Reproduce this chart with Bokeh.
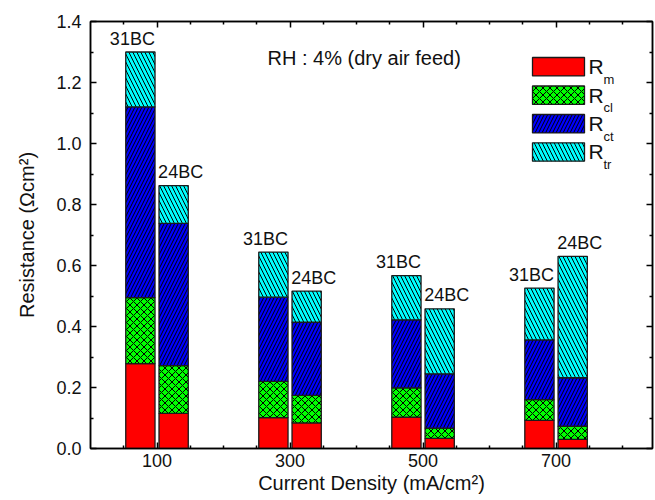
from bokeh.plotting import figure
from bokeh.models import (Range1d, LinearAxis, FixedTicker,
                          PrintfTickFormatter, ColumnDataSource)
from bokeh.core.properties import value
from bokeh.embed import file_html
from bokeh.resources import INLINE

# ---------------- data ----------------
groups = [100, 300, 500, 700]
samples = ["31BC", "24BC"]
components = ["R_m", "R_cl", "R_ct", "R_tr"]
comp_main = ["R", "R", "R", "R"]
comp_sub = ["m", "cl", "ct", "tr"]

rm_31 = [0.278, 0.101, 0.103, 0.092]
rcl_31 = [0.217, 0.119, 0.096, 0.068]
rct_31 = [0.625, 0.276, 0.223, 0.196]
rtr_31 = [0.180, 0.148, 0.145, 0.170]

rm_24 = [0.115, 0.084, 0.033, 0.030]
rcl_24 = [0.157, 0.090, 0.034, 0.043]
rct_24 = [0.466, 0.240, 0.178, 0.159]
rtr_24 = [0.124, 0.102, 0.213, 0.398]

x_ticks = [100, 300, 500, 700]
x_minor = [50, 150, 200, 250, 350, 400, 450, 550, 600, 650, 750, 800]
y_ticks = [0.0, 0.2, 0.4, 0.6, 0.8, 1.0, 1.2, 1.4]
y_minor = [0.1, 0.3, 0.5, 0.7, 0.9, 1.1, 1.3]

# ---------------- style / layout ----------------
FONT = "Liberation Sans"
W, H = 655, 500
FL, FR, FT, FB = 90, 652, 21, 448
XMAX, YMAX = 845, 1.4
colors = ["#ff0000", "#00ff00", "#0000ff", "#00ffff"]
hatches = [" ", "x", "/", "\\"]
hatch_scales = [8, 7, 7, 8]
offsets = [-25, 25]
bar_w = 44


def dx(px):
    return (px - FL) / (FR - FL) * XMAX


def dy(py):
    return (FB - py) / (FB - FT) * YMAX


p = figure(width=W, height=H, output_backend="svg", toolbar_location=None,
           x_range=Range1d(0, XMAX), y_range=Range1d(0, YMAX + 1e-9),
           min_border_left=FL, min_border_right=W - FR,
           min_border_top=FT, min_border_bottom=H - FB,
           x_axis_label="Current Density (mA/cm²)",
           y_axis_label="Resistance (Ωcm²)")
p.grid.visible = False
p.outline_line_color = "black"
p.outline_line_width = 1.5
p.background_fill_color = "white"
p.border_fill_color = "white"

bottom_axis = p.below[0]
left_axis = p.left[0]

xt = FixedTicker(ticks=x_ticks, minor_ticks=x_minor)
yt = FixedTicker(ticks=y_ticks, minor_ticks=y_minor)

bottom_axis.ticker = xt
left_axis.ticker = yt
left_axis.formatter = PrintfTickFormatter(format="%.1f")

extra_top = LinearAxis(ticker=xt)
extra_right = LinearAxis(ticker=yt)
p.add_layout(extra_top, "above")
p.add_layout(extra_right, "right")

for ax in [bottom_axis, left_axis, extra_top, extra_right]:
    ax.axis_line_color = "black"
    ax.axis_line_width = 1.5
    ax.major_tick_in = 6
    ax.major_tick_out = 0
    ax.minor_tick_in = 3
    ax.minor_tick_out = 0
    ax.major_tick_line_width = 1.5
    ax.minor_tick_line_width = 1.5
    ax.major_tick_line_color = "black"
    ax.minor_tick_line_color = "black"
    ax.major_label_text_font = FONT
    ax.major_label_text_font_size = "18px"
    ax.major_label_text_color = "#111111"
    ax.axis_label_text_font = FONT
    ax.axis_label_text_font_size = "20px"
    ax.axis_label_text_font_style = "normal"
    ax.axis_label_text_color = "#111111"

for ax in [extra_top, extra_right]:
    ax.major_label_text_font_size = "0px"
    ax.major_label_text_color = None
    ax.major_label_standoff = 0

bottom_axis.major_label_standoff = 5
bottom_axis.axis_label_standoff = 2
left_axis.major_label_standoff = 9
left_axis.axis_label_standoff = 15

# ---------------- bars ----------------
series = {
    "31BC": [rm_31, rcl_31, rct_31, rtr_31],
    "24BC": [rm_24, rcl_24, rct_24, rtr_24],
}
for si, s in enumerate(samples):
    xs = [g + offsets[si] for g in groups]
    bottoms = [0.0] * len(groups)
    for ci, vals in enumerate(series[s]):
        tops = [b + v for b, v in zip(bottoms, vals)]
        p.vbar(x=xs, width=bar_w, bottom=bottoms, top=tops,
               fill_color=colors[ci], line_color="#1a1a1a", line_width=1.3,
               hatch_pattern=hatches[ci], hatch_color="black",
               hatch_scale=hatch_scales[ci], hatch_weight=1.0)
        bottoms = tops
    src = ColumnDataSource(dict(x=xs, y=bottoms, t=[s] * len(groups)))
    p.text(x="x", y="y", text="t", source=src,
           x_offset=-8 if si == 0 else 7, y_offset=-13.5,
           text_align="center", text_baseline="middle",
           text_font=value(FONT), text_font_size="18px", text_color="#111111")

# ---------------- annotation text ----------------
p.text(x=[dx(267)], y=[dy(57.5)], text=["RH : 4% (dry air feed)"],
       text_align="left", text_baseline="middle",
       text_font=value(FONT), text_font_size="20px", text_color="#111111")

# ---------------- legend ----------------
leg_tops = [57, 85.5, 114, 142.3]
box_h = 18.4
for i in range(len(components)):
    top = leg_tops[i]
    p.quad(left=[dx(532)], right=[dx(584)], top=[dy(top)], bottom=[dy(top + box_h)],
           fill_color=colors[i], line_color="#1a1a1a", line_width=1.3,
           hatch_pattern=hatches[i], hatch_color="black",
           hatch_scale=hatch_scales[i], hatch_weight=1.0)
    p.text(x=[dx(588)], y=[dy(top + 9)], text=[comp_main[i]],
           text_align="left", text_baseline="middle",
           text_font=value(FONT), text_font_size="21px", text_color="#111111")
    p.text(x=[dx(603)], y=[dy(top + 21.5)], text=[comp_sub[i]],
           text_align="left", text_baseline="middle",
           text_font=value(FONT), text_font_size="13px", text_color="#111111")

open("out.html", "w").write(file_html(p, INLINE))
